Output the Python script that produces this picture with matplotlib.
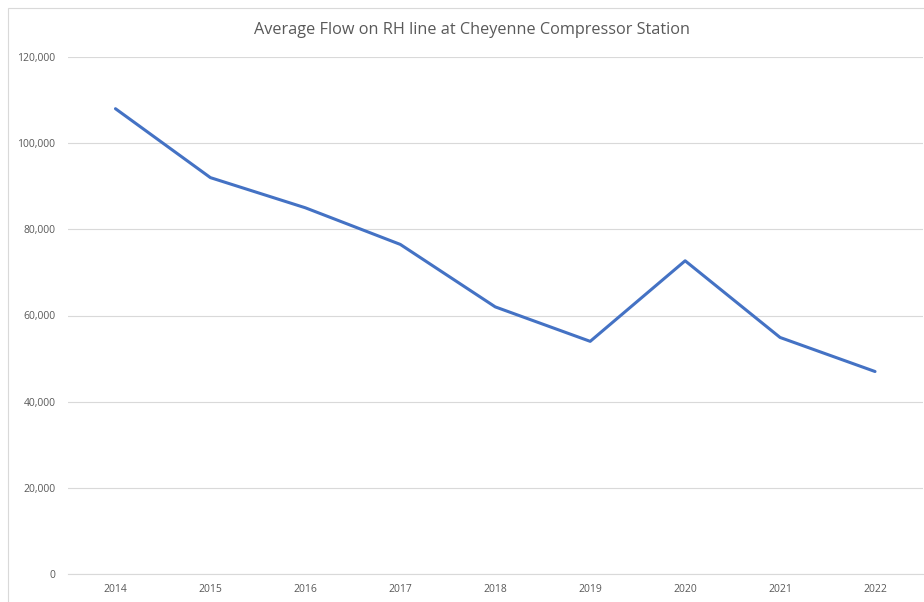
import matplotlib
matplotlib.use("Agg")
import matplotlib.pyplot as plt
from matplotlib.patches import Rectangle
from matplotlib.ticker import FuncFormatter

years = ["2014", "2015", "2016", "2017", "2018", "2019", "2020", "2021", "2022"]
flow = [108000, 92000, 85000, 76500, 62000, 54000, 72700, 54900, 47000]
title = "Average Flow on RH line at Cheyenne Compressor Station"

plt.rcParams['font.family'] = ['Open Sans', 'DejaVu Sans']

W, H = 924, 602
fig = plt.figure(figsize=(W / 100, H / 100), dpi=100)
ax = fig.add_axes([68 / W, (H - 574) / H, (922.5 - 68) / W, (574 - 57) / H])

x = list(range(len(years)))
ax.plot(x, flow, color="#4472C4", linewidth=2.2, solid_capstyle="round", solid_joinstyle="round", zorder=3)

ax.set_xlim(-0.5, len(years) - 0.5)
ax.set_ylim(0, 120000)
ax.set_yticks(range(0, 120001, 20000))
ax.yaxis.set_major_formatter(FuncFormatter(lambda v, p: f"{int(v):,}"))
ax.set_xticks(x)
ax.set_xticklabels(years)

ax.grid(axis="y", color="#D9D9D9", linewidth=0.8)
ax.set_axisbelow(True)
for s in ["top", "right", "left"]:
    ax.spines[s].set_visible(False)
ax.spines["bottom"].set_color("#D9D9D9")
ax.spines["bottom"].set_linewidth(0.8)
ax.tick_params(axis="both", length=0, labelsize=7.5, labelcolor="#595959")
ax.tick_params(axis="y", pad=9)
ax.tick_params(axis="x", pad=7)

fig.text(0.5 + 10 / W, (H - 30.5) / H, title, ha="center", va="center", fontsize=11.7, color="#595959")

fig.patches.append(Rectangle((8 / W, -0.1), 1.2, (H - 8) / H + 0.1, transform=fig.transFigure,
                             fill=False, edgecolor="#D9D9D9", linewidth=0.8, zorder=0))

fig.savefig("out.png", dpi=100)
